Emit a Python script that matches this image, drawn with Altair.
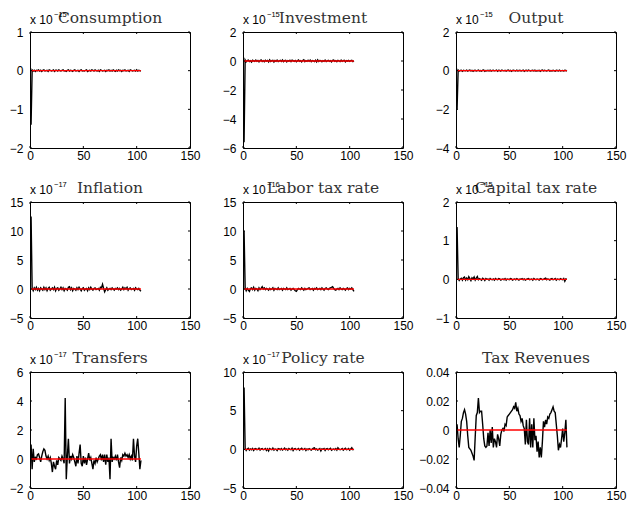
import altair as alt
import pandas as pd

# Simulated responses over 104 periods for nine model variables
periods = list(range(1, 105))

titles = ["Consumption", "Investment", "Output",
          "Inflation", "Labor tax rate", "Capital tax rate",
          "Transfers", "Policy rate", "Tax Revenues"]

# power-of-ten multiplier printed above each panel (None = plain values)
exponents = [-15, -15, -15, -17, -16, -15, -17, -17, None]

y_domains = [[-2, 1], [-6, 2], [-4, 2],
             [-5, 15], [-5, 15], [-1, 2],
             [-2, 6], [-5, 10], [-0.04, 0.04]]
y_ticks = [[-2, -1, 0, 1], [-6, -4, -2, 0, 2], [-4, -2, 0, 2],
           [-5, 0, 5, 10, 15], [-5, 0, 5, 10, 15], [-1, 0, 1, 2],
           [-2, 0, 2, 4, 6], [-5, 0, 5, 10], [-0.04, -0.02, 0, 0.02, 0.04]]
x_ticks = [0, 50, 100, 150]

consumption = [
    -1.40, 0.02, -0.01, 0.01, -0.02, 0.01, 0.00, 0.02, -0.01, 0.01,
    -0.02, 0.01, 0.02, -0.01, 0.00, 0.01, -0.02, 0.02, 0.01, -0.01,
    0.00, 0.02, -0.02, 0.01, 0.01, -0.01, 0.02, 0.00, -0.01, 0.01,
    0.02, -0.01, 0.00, -0.02, 0.01, 0.02, -0.01, 0.01, 0.00, -0.02,
    0.01, 0.02, -0.01, 0.00, 0.01, -0.02, 0.01, 0.02, -0.01, 0.00,
    -0.01, 0.01, 0.02, -0.02, 0.00, 0.01, -0.01, 0.02, 0.01, -0.01,
    0.02, 0.00, -0.01, 0.01, -0.02, 0.02, 0.01, -0.01, 0.00, 0.01,
    -0.02, 0.01, 0.00, 0.02, -0.01, 0.01, -0.01, 0.02, 0.00, -0.02,
    0.01, -0.01, 0.02, 0.00, 0.01, -0.02, 0.01, 0.00, 0.02, -0.01,
    0.00, 0.01, -0.02, 0.02, 0.01, -0.01, 0.00, 0.01, -0.01, 0.02,
    -0.01, 0.01, 0.00, -0.01]

investment = [
    -5.60, 0.08, -0.05, 0.03, 0.06, -0.04, 0.02, -0.07, 0.05, 0.01,
    -0.03, 0.06, -0.02, 0.04, -0.06, 0.03, 0.07, -0.04, 0.02, -0.05,
    0.05, -0.01, 0.04, -0.06, 0.08, -0.03, 0.02, 0.05, -0.07, 0.03,
    -0.02, 0.06, -0.04, 0.01, 0.05, -0.03, 0.07, -0.05, 0.02, 0.04,
    -0.06, 0.03, -0.01, 0.05, -0.04, 0.06, 0.02, -0.03, 0.04, -0.05,
    0.01, 0.07, -0.02, 0.03, -0.06, 0.04, 0.09, -0.04, 0.02, -0.03,
    0.05, -0.02, 0.06, -0.05, 0.03, 0.01, -0.04, 0.05, -0.06, 0.08,
    -0.03, 0.04, 0.02, -0.05, 0.03, -0.02, 0.06, -0.04, 0.01, 0.05,
    -0.03, 0.02, -0.06, 0.04, 0.07, -0.02, 0.03, -0.05, 0.04, 0.01,
    -0.04, 0.06, -0.03, 0.02, 0.05, -0.06, 0.03, -0.01, 0.04, -0.03,
    0.02, 0.05, -0.04, 0.01]

output = [
    -2.00, 0.03, -0.02, 0.01, 0.02, -0.03, 0.02, 0.00, -0.01, 0.03,
    -0.02, 0.01, 0.03, -0.01, 0.02, -0.03, 0.01, 0.02, -0.02, 0.00,
    0.03, -0.01, 0.01, -0.02, 0.02, 0.03, -0.03, 0.01, 0.00, 0.02,
    -0.01, 0.03, -0.02, 0.01, 0.02, -0.01, 0.00, 0.03, -0.03, 0.02,
    0.01, -0.02, 0.03, 0.00, -0.01, 0.02, -0.02, 0.01, 0.03, -0.01,
    0.02, -0.03, 0.01, 0.02, 0.00, -0.02, 0.03, -0.01, 0.01, 0.02,
    -0.02, 0.00, 0.03, -0.03, 0.01, 0.02, -0.01, 0.03, 0.00, -0.02,
    0.01, 0.02, -0.01, 0.03, -0.02, 0.01, 0.00, 0.02, -0.03, 0.01,
    0.03, -0.01, 0.02, 0.00, -0.02, 0.01, 0.03, -0.02, 0.01, -0.01,
    0.02, 0.00, -0.03, 0.02, 0.01, -0.01, 0.03, -0.02, 0.00, 0.01,
    -0.01, 0.02, 0.01, -0.02]

inflation = [
    12.50, 0.10, -0.30, 0.20, -0.10, 0.30, -0.20, 0.10, -0.30, 0.20,
    0.00, -0.20, 0.30, -0.10, 0.20, -0.30, 0.10, 0.30, -0.20, 0.00,
    0.20, -0.10, 0.30, -0.30, 0.10, 0.20, -0.20, 0.00, 0.30, -0.10,
    0.20, -0.30, 0.10, 0.00, -0.20, 0.30, 0.40, -0.10, 0.20, -0.30,
    0.10, 0.00, -0.20, 0.20, -0.10, 0.30, 0.00, -0.30, 0.10, 0.20,
    -0.20, 0.00, 0.10, -0.30, 0.20, -0.10, 0.30, 0.00, -0.20, 0.10,
    0.20, -0.10, 0.00, 0.10, -0.20, 0.30, 0.20, 0.80, 0.10, -0.50,
    -0.10, 0.20, -0.20, 0.00, 0.10, -0.10, 0.20, 0.00, -0.20, 0.10,
    0.00, 0.20, -0.10, 0.10, -0.20, 0.00, 0.30, -0.10, 0.20, 0.00,
    0.30, -0.20, 0.10, 0.20, -0.10, 0.00, 0.10, -0.20, 0.20, 0.00,
    -0.10, 0.10, -0.20, -0.40]

labor_tax = [
    10.00, 0.20, -0.30, 0.10, -0.20, -0.40, 0.10, 0.20, -0.10, 0.30,
    -0.20, 0.10, 0.00, -0.30, 0.20, -0.10, 0.10, 0.40, 0.00, 0.20,
    -0.10, 0.10, 0.00, -0.20, 0.10, -0.10, 0.00, 0.20, -0.20, 0.10,
    0.00, -0.10, 0.20, -0.10, 0.00, 0.10, -0.20, 0.10, 0.00, -0.10,
    0.20, -0.10, 0.00, 0.10, -0.20, 0.00, 0.10, -0.10, -0.30, -0.40,
    -0.10, 0.10, 0.00, -0.10, 0.20, 0.00, -0.20, 0.10, -0.10, 0.00,
    0.10, 0.20, -0.10, 0.00, 0.10, -0.20, 0.10, 0.00, 0.20, -0.10,
    0.00, 0.10, -0.10, 0.20, 0.00, -0.20, 0.10, 0.20, 0.00, -0.10,
    0.10, 0.20, 0.30, 0.40, 0.10, -0.10, -0.20, 0.00, 0.10, -0.10,
    0.20, 0.00, -0.10, 0.10, 0.00, -0.20, 0.10, 0.20, -0.10, 0.10,
    0.00, 0.20, -0.10, -0.40]

capital_tax = [
    1.35, 0.02, -0.03, 0.01, 0.03, -0.02, 0.04, 0.06, -0.02, 0.03,
    -0.01, 0.07, 0.02, -0.03, 0.04, 0.01, 0.06, -0.02, 0.03, 0.07,
    -0.01, 0.02, 0.00, -0.02, 0.03, 0.01, -0.03, 0.02, 0.00, 0.01,
    -0.02, 0.02, 0.00, -0.01, 0.01, -0.02, 0.02, 0.00, -0.01, 0.02,
    0.01, -0.02, 0.00, 0.01, -0.01, 0.02, -0.02, 0.01, 0.00, -0.01,
    0.02, 0.01, -0.02, 0.00, 0.01, -0.01, 0.02, 0.00, -0.02, 0.01,
    0.00, 0.02, -0.01, 0.01, -0.02, 0.00, 0.01, 0.02, -0.01, 0.00,
    0.01, -0.02, 0.02, 0.00, -0.01, 0.01, 0.00, -0.02, 0.02, 0.01,
    -0.01, 0.00, 0.02, 0.03, -0.01, 0.01, 0.00, -0.02, 0.01, 0.02,
    -0.01, 0.00, 0.02, -0.02, 0.01, 0.00, -0.01, 0.02, 0.00, -0.01,
    0.02, -0.05, 0.01, 0.00]

transfers = [
    1.0, -0.7, 0.7, -0.2, 0.1, 0.0, 0.3, 0.35, 0.1, -0.2,
    0.2, 0.5, 0.7, 0.6, 0.2, 0.0, 0.2, -0.1, 0.1, -0.3,
    -0.9, -0.2, -0.5, -0.7, -0.1, -0.4, 0.1, 0.0, -0.1, 0.2,
    0.0, -0.3, 4.2, -1.4, 0.2, 1.4, -0.3, 0.2, 0.0, 0.3,
    0.1, -0.2, -0.5, 0.2, -0.3, 0.4, 1.0, -0.3, -0.5, 0.2,
    -0.3, 0.1, -0.4, 0.0, 0.4, -0.1, 0.1, -0.3, -0.7, -0.1,
    -0.3, 0.1, -0.2, 0.0, 0.2, 0.3, -0.1, 0.3, -0.2, 0.3,
    -0.4, 0.3, -0.2, 0.1, -1.4, 1.4, -0.2, 0.1, 0.0, 0.2,
    -0.1, 0.3, -0.2, -0.6, 0.1, -0.1, 0.3, 0.2, 0.4, 0.2,
    0.3, 0.1, 0.3, 0.0, 0.2, -0.1, 1.4, 0.2, -0.2, 0.9,
    1.4, 0.4, -0.7, -0.1]

policy_rate = [
    8.00, 0.10, -0.15, 0.05, 0.15, -0.10, 0.05, -0.05, 0.10, -0.15,
    0.05, 0.10, -0.05, 0.00, 0.15, -0.10, 0.05, 0.10, -0.05, 0.00,
    0.10, -0.15, 0.05, -0.20, 0.10, 0.00, -0.05, 0.15, -0.10, 0.05,
    0.00, -0.15, 0.10, 0.05, -0.05, 0.10, -0.10, 0.00, 0.15, -0.05,
    0.05, -0.10, 0.10, 0.00, -0.05, 0.15, -0.15, 0.05, 0.10, -0.05,
    0.00, 0.10, -0.10, 0.05, 0.15, -0.05, 0.00, 0.10, -0.15, 0.05,
    -0.05, 0.10, 0.00, -0.10, 0.05, 0.15, 0.20, -0.05, 0.05, -0.10,
    0.00, 0.10, -0.20, 0.05, 0.00, 0.10, -0.15, 0.05, 0.10, -0.05,
    0.05, 0.15, -0.10, 0.00, 0.05, -0.05, 0.10, -0.10, 0.20, 0.05,
    -0.05, 0.00, 0.10, -0.10, 0.05, 0.15, -0.05, 0.00, 0.10, -0.10,
    0.05, 0.20, -0.05, 0.00]

tax_revenues = [
    0.004, -0.006, -0.012, -0.004, 0.006, 0.008, 0.012, 0.014, 0.011, 0.006,
    -0.004, -0.012, -0.013, -0.014, -0.016, -0.018, -0.021, -0.005, 0.010, 0.012,
    0.022, 0.012, 0.013, 0.013, 0.004, -0.006, -0.011, -0.012, -0.011, -0.002,
    -0.011, 0.000, -0.009, 0.002, -0.012, -0.006, -0.008, -0.012, -0.003, -0.006,
    -0.011, -0.003, 0.000, 0.001, -0.001, 0.004, 0.003, 0.009, 0.010, 0.011,
    0.012, 0.013, 0.014, 0.016, 0.015, 0.019, 0.013, 0.015, 0.011, 0.010,
    0.006, 0.008, 0.003, 0.001, -0.010, 0.007, -0.008, -0.010, 0.008, -0.012,
    0.004, -0.012, 0.008, -0.007, -0.004, -0.015, -0.008, -0.019, -0.012, -0.019,
    -0.008, 0.006, 0.002, 0.007, 0.004, 0.009, 0.008, 0.011, 0.012, 0.014,
    0.016, 0.013, 0.012, 0.004, -0.004, -0.014, -0.010, -0.012, -0.006, 0.001,
    -0.008, -0.002, 0.007, -0.012]

series = [consumption, investment, output,
          inflation, labor_tax, capital_tax,
          transfers, policy_rate, tax_revenues]

W, H = 160, 116
TICK = 2


def panel(i):
    df = pd.DataFrame({"t": periods, "v": series[i]})
    x_enc = alt.X("t:Q", title=None,
                  scale=alt.Scale(domain=[0, 150], nice=False, zero=False),
                  axis=alt.Axis(values=x_ticks, format="~f", labelOverlap=False))
    y_enc = alt.Y("v:Q", title=None,
                  scale=alt.Scale(domain=y_domains[i], nice=False, zero=False),
                  axis=alt.Axis(values=y_ticks[i], format="~f", labelOverlap=False))

    line = alt.Chart(df).mark_line(color="black", strokeWidth=1.4)

    steady = pd.DataFrame({"t": [periods[0]], "t_end": [periods[-1]], "v": [0.0]})
    zero_line = alt.Chart(steady).mark_rule(color="#ff0000", strokeWidth=1.4).encode(
        x2="t_end:Q")

    # inward-pointing tick marks on all four sides of the box
    xt = pd.DataFrame({"t": x_ticks})
    yt = pd.DataFrame({"v": y_ticks[i]})
    ticks = [
        alt.Chart(xt).mark_rule(color="black", strokeWidth=1).encode(
            y=alt.value(0), y2=alt.value(TICK)),
        alt.Chart(xt).mark_rule(color="black", strokeWidth=1).encode(
            y=alt.value(H), y2=alt.value(H - TICK)),
        alt.Chart(yt).mark_rule(color="black", strokeWidth=1).encode(
            x=alt.value(0), x2=alt.value(TICK)),
        alt.Chart(yt).mark_rule(color="black", strokeWidth=1).encode(
            x=alt.value(W), x2=alt.value(W - TICK)),
    ]

    title = alt.Chart(pd.DataFrame({"label": [titles[i]]})).mark_text(
        font="DejaVu Serif", fontSize=15.5, color="#333333",
        align="center", baseline="alphabetic").encode(
        text="label:N", x=alt.value(W / 2), y=alt.value(-9))

    layers = [line, zero_line] + ticks + [title]

    if exponents[i] is not None:
        base = alt.Chart(pd.DataFrame({"label": ["x 10"]})).mark_text(
            font="Liberation Sans", fontSize=12, color="black",
            align="left", baseline="alphabetic").encode(
            text="label:N", x=alt.value(0), y=alt.value(-8))
        power = str(exponents[i]).replace("-", "\u2212")
        sup = alt.Chart(pd.DataFrame({"label": [power]})).mark_text(
            font="Liberation Sans", fontSize=7.5, color="black",
            align="left", baseline="alphabetic").encode(
            text="label:N", x=alt.value(24), y=alt.value(-15))
        layers += [base, sup]

    # positional encodings are declared once and inherited by every layer
    return alt.layer(*layers).encode(x=x_enc, y=y_enc).properties(width=W, height=H)


chart = alt.concat(
    *[panel(i) for i in range(9)],
    columns=3,
    spacing={"row": 54, "column": 53},
    bounds="flush",
).properties(
    padding={"left": 8, "top": 10, "right": 0, "bottom": 0},
    background="white",
).configure_view(
    stroke="black", strokeWidth=1,
).configure_axis(
    domain=False, ticks=False, tickSize=0, grid=False,
    labelFont="Liberation Sans", labelFontSize=12, labelColor="black",
    labelFlush=False, labelOverlap=False, labelBound=False,
).configure_axisX(
    labelPadding=2,
).configure_axisY(
    labelPadding=7,
)

chart.save("out.html", embed_options={"renderer": "svg", "actions": False})
